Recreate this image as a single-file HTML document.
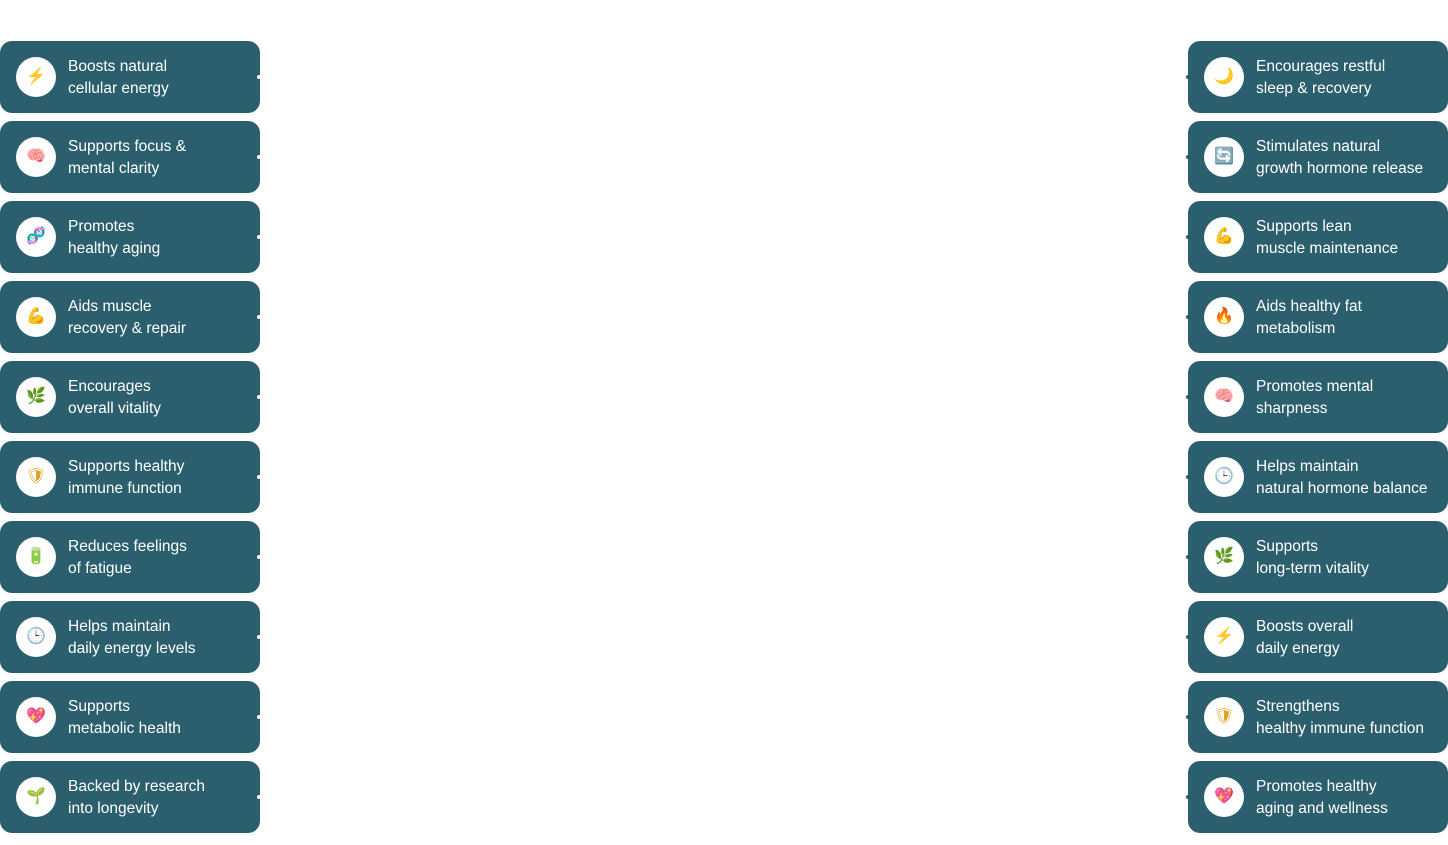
<!DOCTYPE html>
<html><head><meta charset="utf-8"><style>
body{margin:0;width:1448px;height:845px;background:#fff;position:relative;overflow:hidden;font-family:"Liberation Sans",sans-serif}
.c{position:absolute;width:260px;height:72px;background:#2b5f6d;border-radius:12px;color:#fff;box-sizing:border-box}
.ic{position:absolute;left:16px;top:16px;width:40px;height:40px;border-radius:50%;background:#fff;text-align:center;line-height:40px;font-size:16px;color:#e0a020}
.t{position:absolute;left:68px;top:15px;font-size:15.5px;line-height:22px;white-space:nowrap}
.dl{position:absolute;right:-1px;top:34px;width:4px;height:4px;border-radius:50%;background:#fff}
.dr{position:absolute;left:-2px;top:34px;width:4px;height:4px;border-radius:50%;background:#2b5f6d}
</style></head><body>
<div class="c" style="left:0;top:41px"><div class="ic">⚡</div><div class="t">Boosts natural<br>cellular energy</div><div class="dl"></div></div>
<div class="c" style="left:0;top:121px"><div class="ic">🧠</div><div class="t">Supports focus &amp;<br>mental clarity</div><div class="dl"></div></div>
<div class="c" style="left:0;top:201px"><div class="ic">🧬</div><div class="t">Promotes<br>healthy aging</div><div class="dl"></div></div>
<div class="c" style="left:0;top:281px"><div class="ic">💪</div><div class="t">Aids muscle<br>recovery &amp; repair</div><div class="dl"></div></div>
<div class="c" style="left:0;top:361px"><div class="ic">🌿</div><div class="t">Encourages<br>overall vitality</div><div class="dl"></div></div>
<div class="c" style="left:0;top:441px"><div class="ic">🛡</div><div class="t">Supports healthy<br>immune function</div><div class="dl"></div></div>
<div class="c" style="left:0;top:521px"><div class="ic">🔋</div><div class="t">Reduces feelings<br>of fatigue</div><div class="dl"></div></div>
<div class="c" style="left:0;top:601px"><div class="ic">🕒</div><div class="t">Helps maintain<br>daily energy levels</div><div class="dl"></div></div>
<div class="c" style="left:0;top:681px"><div class="ic">💖</div><div class="t">Supports<br>metabolic health</div><div class="dl"></div></div>
<div class="c" style="left:0;top:761px"><div class="ic">🌱</div><div class="t">Backed by research<br>into longevity</div><div class="dl"></div></div>

<div class="c" style="left:1188px;top:41px"><div class="ic">🌙</div><div class="t">Encourages restful<br>sleep &amp; recovery</div><div class="dr"></div></div>
<div class="c" style="left:1188px;top:121px"><div class="ic">🔄</div><div class="t">Stimulates natural<br>growth hormone release</div><div class="dr"></div></div>
<div class="c" style="left:1188px;top:201px"><div class="ic">💪</div><div class="t">Supports lean<br>muscle maintenance</div><div class="dr"></div></div>
<div class="c" style="left:1188px;top:281px"><div class="ic">🔥</div><div class="t">Aids healthy fat<br>metabolism</div><div class="dr"></div></div>
<div class="c" style="left:1188px;top:361px"><div class="ic">🧠</div><div class="t">Promotes mental<br>sharpness</div><div class="dr"></div></div>
<div class="c" style="left:1188px;top:441px"><div class="ic">🕒</div><div class="t">Helps maintain<br>natural hormone balance</div><div class="dr"></div></div>
<div class="c" style="left:1188px;top:521px"><div class="ic">🌿</div><div class="t">Supports<br>long-term vitality</div><div class="dr"></div></div>
<div class="c" style="left:1188px;top:601px"><div class="ic">⚡</div><div class="t">Boosts overall<br>daily energy</div><div class="dr"></div></div>
<div class="c" style="left:1188px;top:681px"><div class="ic">🛡</div><div class="t">Strengthens<br>healthy immune function</div><div class="dr"></div></div>
<div class="c" style="left:1188px;top:761px"><div class="ic">💖</div><div class="t">Promotes healthy<br>aging and wellness</div><div class="dr"></div></div>
</body></html>
